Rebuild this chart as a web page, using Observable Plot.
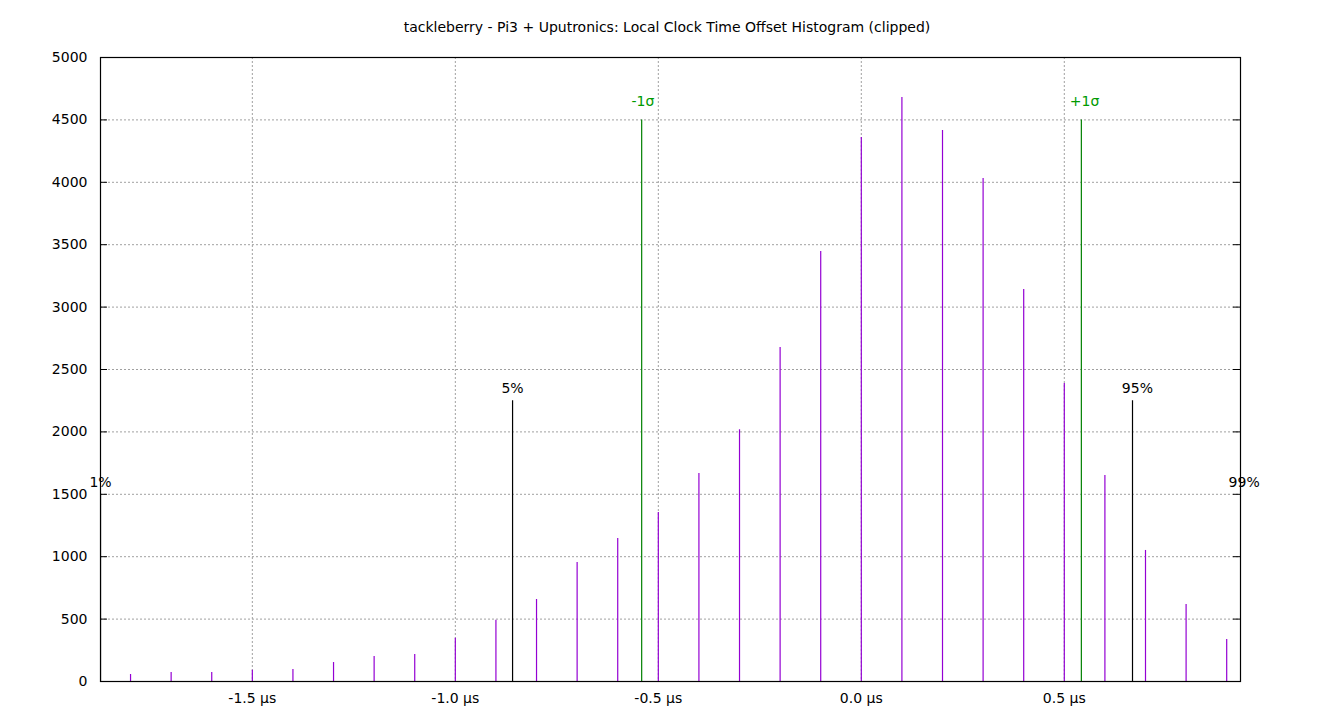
<!DOCTYPE html>
<html><head><meta charset="utf-8">
<script src="https://cdn.jsdelivr.net/npm/d3@7"></script>
<script src="https://cdn.jsdelivr.net/npm/@observablehq/plot@0.6"></script>
<style>
body{margin:0;background:#fff;font-family:"DejaVu Sans",sans-serif;}
#title{width:1334px;height:40px;box-sizing:border-box;padding-top:19px;line-height:16px;font-size:14px;text-align:center;color:#000;}
</style></head><body>
<div id="title">tackleberry - Pi3 + Uputronics: Local Clock Time Offset Histogram (clipped)</div>
<div id="chart"></div>
<script>
// Histogram bins (µs) and counts
const binCenters = [-1.8,-1.7,-1.6,-1.5,-1.4,-1.3,-1.2,-1.1,-1.0,-0.9,-0.8,-0.7,-0.6,-0.5,-0.4,-0.3,-0.2,-0.1,0.0,0.1,0.2,0.3,0.4,0.5,0.6,0.7,0.8,0.9];
const binCounts  = [56,72,72,90,96,152,200,216,347,491,657,953,1146,1354,1667,2017,2676,3446,4359,4679,4415,4030,3141,2388,1651,1050,617,337];

// Percentile markers
const pctNames  = ["1%","5%","95%","99%"];
const pctX      = [-1.874,-0.859,0.668,0.943];
const pctLabelX = [-1.874,-0.859,0.680,0.943];
const pctHeight = [1500,2250,2250,1500];

// Sigma markers
const sigmaNames  = ["-1σ","+1σ"];
const sigmaX      = [-0.541,0.542];
const sigmaLabelX = [-0.538,0.550];
const sigmaHeight = [4500,4500];

// Axes
const xDomain = [-1.874,0.934];
const xTicks = [-1.5,-1.0,-0.5,0.0,0.5];
const yTicks = [0,500,1000,1500,2000,2500,3000,3500,4000,4500,5000];

const bars = binCenters.map((t,i)=>({t, count: binCounts[i]}));
const pcts = pctNames.map((name,i)=>({name, x: pctX[i], lx: pctLabelX[i], h: pctHeight[i]}));
const sigmas = sigmaNames.map((name,i)=>({name, x: sigmaX[i], lx: sigmaLabelX[i], h: sigmaHeight[i]}));

const W = 1340, ML = 100, MR = 100, TICK = 7, FS = 14;
const inner = W - ML - MR;
const FONT = "DejaVu Sans, sans-serif";

const plot = Plot.plot({
  width: W, height: 680,
  marginTop: 17, marginBottom: 39, marginLeft: ML, marginRight: MR,
  style: {fontFamily: FONT, fontSize: FS + "px", color: "#000", background: "#fff"},
  x: {domain: xDomain},
  y: {domain: [0,5000]},
  marks: [
    Plot.gridX(xTicks, {stroke: "#a0a0a0", strokeOpacity: 1, strokeDasharray: "2,2"}),
    Plot.gridY(yTicks.filter(d => d > 0 && d < 5000), {stroke: "#a0a0a0", strokeOpacity: 1, strokeDasharray: "2,2"}),
    Plot.ruleX(bars, {x: "t", y1: 0, y2: "count", stroke: "#9400d3", strokeWidth: 1.2}),
    Plot.ruleX(pcts, {x: "x", y1: 0, y2: "h", stroke: "#000", strokeWidth: 1.2, clip: true}),
    Plot.ruleX(sigmas, {x: "x", y1: 0, y2: "h", stroke: "#008000", strokeWidth: 1.2, clip: true}),
    Plot.text(pcts, {x: "lx", y: "h", text: "name", dy: -12, fill: "#000", fontSize: FS}),
    Plot.text(sigmas, {x: "lx", y: "h", text: "name", dy: -18, fill: "#009a00", fontSize: FS}),
    Plot.ruleY(yTicks, {y: d => d, insetRight: inner - TICK, stroke: "#000"}),
    Plot.ruleY(yTicks, {y: d => d, insetLeft: inner - TICK, stroke: "#000"}),
    Plot.axisX({ticks: xTicks, tickFormat: d => d.toFixed(1) + " µs", tickSize: 0, tickPadding: 12, fontSize: FS}),
    Plot.axisY({ticks: yTicks, tickFormat: d => String(d), tickSize: 0, tickPadding: 13, fontSize: FS}),
    Plot.frame({stroke: "#000", strokeWidth: 1.2})
  ]
});
document.getElementById("chart").appendChild(plot);
</script>
</body></html>
